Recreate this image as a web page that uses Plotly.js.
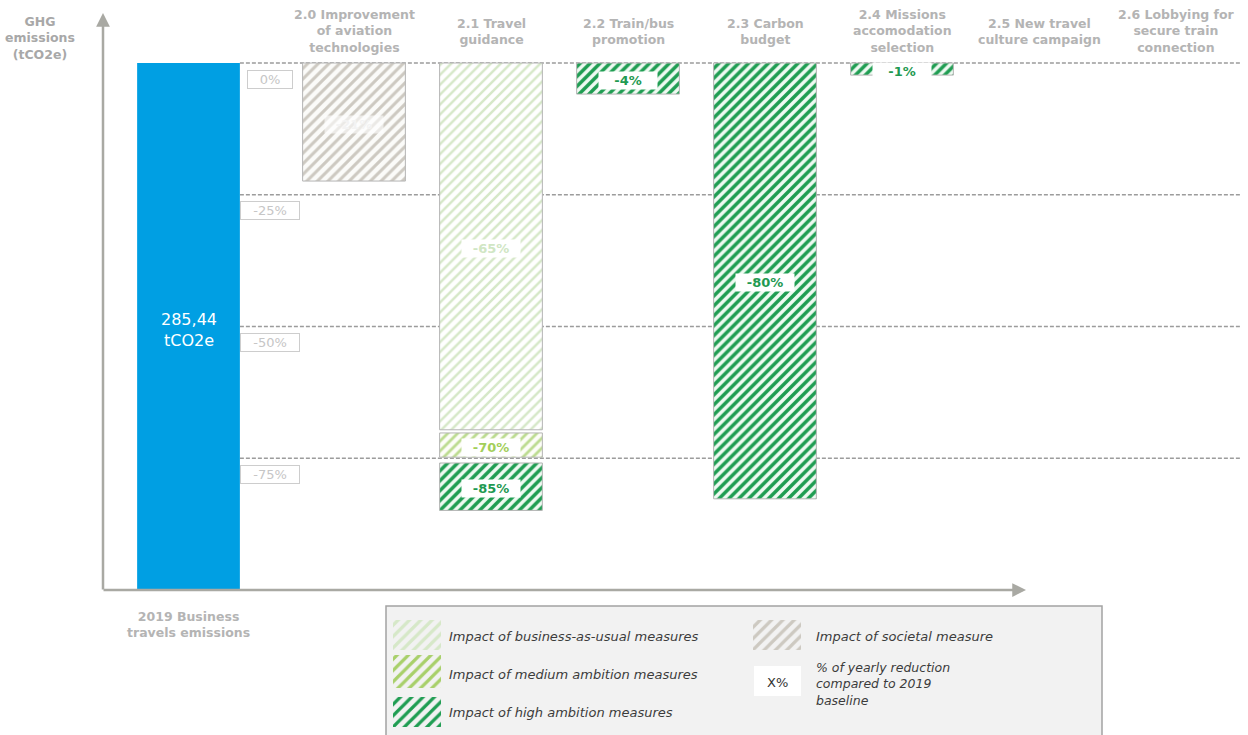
<!DOCTYPE html>
<html><head><meta charset="utf-8">
<script src="https://cdn.plot.ly/plotly-3.0.1.min.js"></script>
<style>html,body{margin:0;padding:0;background:#fff}#chart{width:1248px;height:735px}</style>
</head><body><div id="chart"></div>
<script>
// ---------- data ----------
const categories = [
  '2019 Business<br>travels emissions',
  '2.0 Improvement<br>of aviation<br>technologies',
  '2.1 Travel<br>guidance',
  '2.2 Train/bus<br>promotion',
  '2.3 Carbon<br>budget',
  '2.4 Missions<br>accomodation<br>selection',
  '2.5 New travel<br>culture campaign',
  '2.6 Lobbying for<br>secure train<br>connection'
];
const baselineTCO2e = 285.44;
const baselineUnit = 'tCO2e';
// reduction segments (percent of 2019 baseline, as drawn)
const measureIndex    = [1, 2, 2, 2, 3, 4, 5];
const measureType     = ['societal', 'bau', 'medium', 'high', 'high', 'high', 'high'];
const reductionFrom   = [0, 0, 70.2, 75.9, 0, 0, 0];
const reductionTo     = [22.4, 69.6, 74.8, 84.9, 5.9, 82.7, 2.3];
const reductionLabels = ['-21%', '-65%', '-70%', '-85%', '-4%', '-80%', '-1%'];
const referenceLevels = [0, 25, 50, 75];
const referenceLabels = ['0%', '-25%', '-50%', '-75%'];
const legendTypes = ['bau', 'medium', 'high', 'societal'];
const legendTexts = [
  'Impact of business-as-usual measures',
  'Impact of medium ambition measures',
  'Impact of high ambition measures',
  'Impact of societal measure'
];
const legendNoteSymbol = 'X%';
const legendNoteText = '% of yearly reduction<br>compared to 2019<br>baseline';
const yAxisTitle = 'GHG<br>emissions<br>(tCO2e)';

// ---------- styles / layout ----------
const STYLE = {
  societal: {fg: '#cdc9c1', bg: '#fbfbf9', text: '#f3f3f3', box: 'rgba(255,255,255,0.6)', size: 7.5, sol: 0.4},
  bau:      {fg: '#d6e8c8', bg: '#ffffff', text: '#d0e6c4', box: '#ffffff', size: 7, sol: 0.35},
  medium:   {fg: '#bcdb90', bg: '#fdfdf8', text: '#a3cf5a', box: '#ffffff', size: 7, sol: 0.4},
  high:     {fg: '#1f9d52', bg: '#effaf2', text: '#1f9a52', box: '#ffffff', size: 7, sol: 0.5}
};
const FONT = 'DejaVu Sans, Verdana, sans-serif';
const W = 1248, H = 735;
const X0 = 188.5, DX = 137;           // pixel centre of baseline bar, category spacing
const GAP = 0.208;                     // extra gap after the baseline bar
const pos = i => i === 0 ? 0 : i + GAP;
const Y0 = 590, YTOP = 63;             // pixel of 0 and of baseline
const k = (Y0 - YTOP) / baselineTCO2e;
const BW = 0.75;

const traces = [];
// baseline bar
traces.push({type: 'bar', x: [pos(0)], y: [baselineTCO2e], base: [0], width: BW,
  marker: {color: '#009fe3', line: {width: 0}}, hoverinfo: 'skip', xaxis: 'x', yaxis: 'y'});

// measure bars, one trace per type
['societal', 'bau', 'medium', 'high'].forEach(t => {
  const idx = measureType.map((m, i) => m === t ? i : -1).filter(i => i >= 0);
  traces.push({
    type: 'bar',
    x: idx.map(i => pos(measureIndex[i])),
    base: idx.map(i => baselineTCO2e * (1 - reductionTo[i] / 100)),
    y: idx.map(i => baselineTCO2e * (reductionTo[i] - reductionFrom[i]) / 100),
    width: BW,
    marker: {color: STYLE[t].bg,
      pattern: {shape: '/', fgcolor: STYLE[t].fg, bgcolor: STYLE[t].bg, size: STYLE[t].size, solidity: STYLE[t].sol, fillmode: 'replace'},
      line: {color: '#b4b4b4', width: 1}},
    hoverinfo: 'skip', xaxis: 'x', yaxis: 'y'
  });
});

// legend swatches (pixel axes x2/y2)
const swPos = [[417, 620, 30], [417, 655, 33], [417, 697, 30], [777, 620, 30]];
legendTypes.forEach((t, i) => {
  traces.push({type: 'bar', x: [swPos[i][0]], base: [swPos[i][1]], y: [swPos[i][2]], width: [48],
    marker: {color: '#f2f2f2',
      pattern: {shape: '/', fgcolor: t === 'medium' ? '#a8d06a' : STYLE[t].fg, bgcolor: '#f2f2f2', size: 8, solidity: 0.4, fillmode: 'replace'},
      line: {width: 0}},
    hoverinfo: 'skip', xaxis: 'x2', yaxis: 'y2'});
});

const shapes = [];
const annotations = [];
// legend box
shapes.push({type: 'rect', xref: 'x2', yref: 'y2', x0: 386, x1: 1102, y0: 606, y1: 745,
  fillcolor: '#f2f2f2', line: {color: '#a3a3a3', width: 1.5}, layer: 'below'});
shapes.push({type: 'rect', xref: 'x2', yref: 'y2', x0: 754, x1: 801, y0: 666, y1: 696,
  fillcolor: '#ffffff', line: {width: 0}, layer: 'below'});

// reference dashed lines + labels
referenceLevels.forEach((p, i) => {
  const yv = baselineTCO2e * (1 - p / 100);
  shapes.push({type: 'line', xref: 'x', yref: 'y', x0: BW / 2, x1: (1240 - X0) / DX, y0: yv, y1: yv,
    line: {color: '#9c9c9c', width: 1.5, dash: '4px,2px'}, layer: 'below'});
  annotations.push({xref: 'x', yref: 'y', x: (270 - X0) / DX, y: yv, yshift: -16, text: referenceLabels[i],
    showarrow: false, font: {family: FONT, size: 13, color: '#c6c6c6'}, bgcolor: '#ffffff',
    bordercolor: '#cdcdcd', borderwidth: 1, borderpad: 1, width: referenceLabels[i].length > 2 ? 56 : 42});
});

// baseline label
annotations.push({xref: 'x', yref: 'y', x: pos(0), y: baselineTCO2e / 2, yshift: -3,
  text: baselineTCO2e.toFixed(2).replace('.', ',') + '<br>' + baselineUnit, showarrow: false,
  font: {family: FONT, size: 16, color: '#ffffff'}});

// measure labels
reductionLabels.forEach((lab, i) => {
  const t = measureType[i];
  const mid = baselineTCO2e * (1 - (reductionFrom[i] + reductionTo[i]) / 200);
  annotations.push({xref: 'x', yref: 'y', x: pos(measureIndex[i]), y: mid, yshift: -2, text: '<b>' + lab + '</b>',
    showarrow: false, font: {family: FONT, size: 13, color: STYLE[t].text},
    bgcolor: STYLE[t].box, borderpad: 1, width: 56});
});

// category labels
categories.forEach((c, i) => {
  annotations.push({xref: 'x', yref: 'y2', x: pos(i), y: i === 0 ? 624 : 31, text: c, showarrow: false,
    font: {family: FONT, size: 12.5, color: '#b4b4b4', weight: 'bold'}, align: 'center'});
});

// y axis title
annotations.push({xref: 'x2', yref: 'y2', x: 40, y: 38, text: yAxisTitle, showarrow: false,
  font: {family: FONT, size: 12.5, color: '#a8a8a8', weight: 'bold'}, align: 'center'});

// axes arrows
annotations.push({xref: 'x2', yref: 'y2', x: 103, y: 13, axref: 'x2', ayref: 'y2', ax: 103, ay: 591,
  text: '', showarrow: true, arrowhead: 2, arrowsize: 1.1, arrowwidth: 2.5, arrowcolor: '#a9a9a3', standoff: 0});
annotations.push({xref: 'x2', yref: 'y2', x: 1026, y: 590, axref: 'x2', ayref: 'y2', ax: 102, ay: 590,
  text: '', showarrow: true, arrowhead: 2, arrowsize: 1.1, arrowwidth: 2.5, arrowcolor: '#a9a9a3', standoff: 0});

// legend texts
const legTxtPos = [[447, 636], [447, 674], [447, 712], [814, 636]];
legendTexts.forEach((t, i) => {
  annotations.push({xref: 'x2', yref: 'y2', x: legTxtPos[i][0], y: legTxtPos[i][1], xanchor: 'left',
    text: '<i>' + t + '</i>', showarrow: false, font: {family: FONT, size: 13, color: '#3c3c3c'}});
});
annotations.push({xref: 'x2', yref: 'y2', x: 777, y: 682, text: legendNoteSymbol, showarrow: false,
  font: {family: FONT, size: 13, color: '#333333'}});
annotations.push({xref: 'x2', yref: 'y2', x: 814, y: 684, xanchor: 'left', align: 'left',
  text: '<i>' + legendNoteText + '</i>', showarrow: false, font: {family: FONT, size: 12.5, color: '#3c3c3c'}});

const layout = {
  width: W, height: H, margin: {l: 0, r: 0, t: 0, b: 0},
  paper_bgcolor: '#ffffff', plot_bgcolor: '#ffffff',
  showlegend: false, barmode: 'overlay',
  xaxis: {range: [-X0 / DX, (W - X0) / DX], visible: false, fixedrange: true},
  yaxis: {range: [(Y0 - H) / k, Y0 / k], visible: false, fixedrange: true},
  xaxis2: {range: [0, W], overlaying: 'x', visible: false, fixedrange: true},
  yaxis2: {range: [H, 0], overlaying: 'y', visible: false, fixedrange: true},
  shapes: shapes, annotations: annotations
};
Plotly.newPlot('chart', traces, layout, {staticPlot: true, displayModeBar: false});
</script></body></html>
